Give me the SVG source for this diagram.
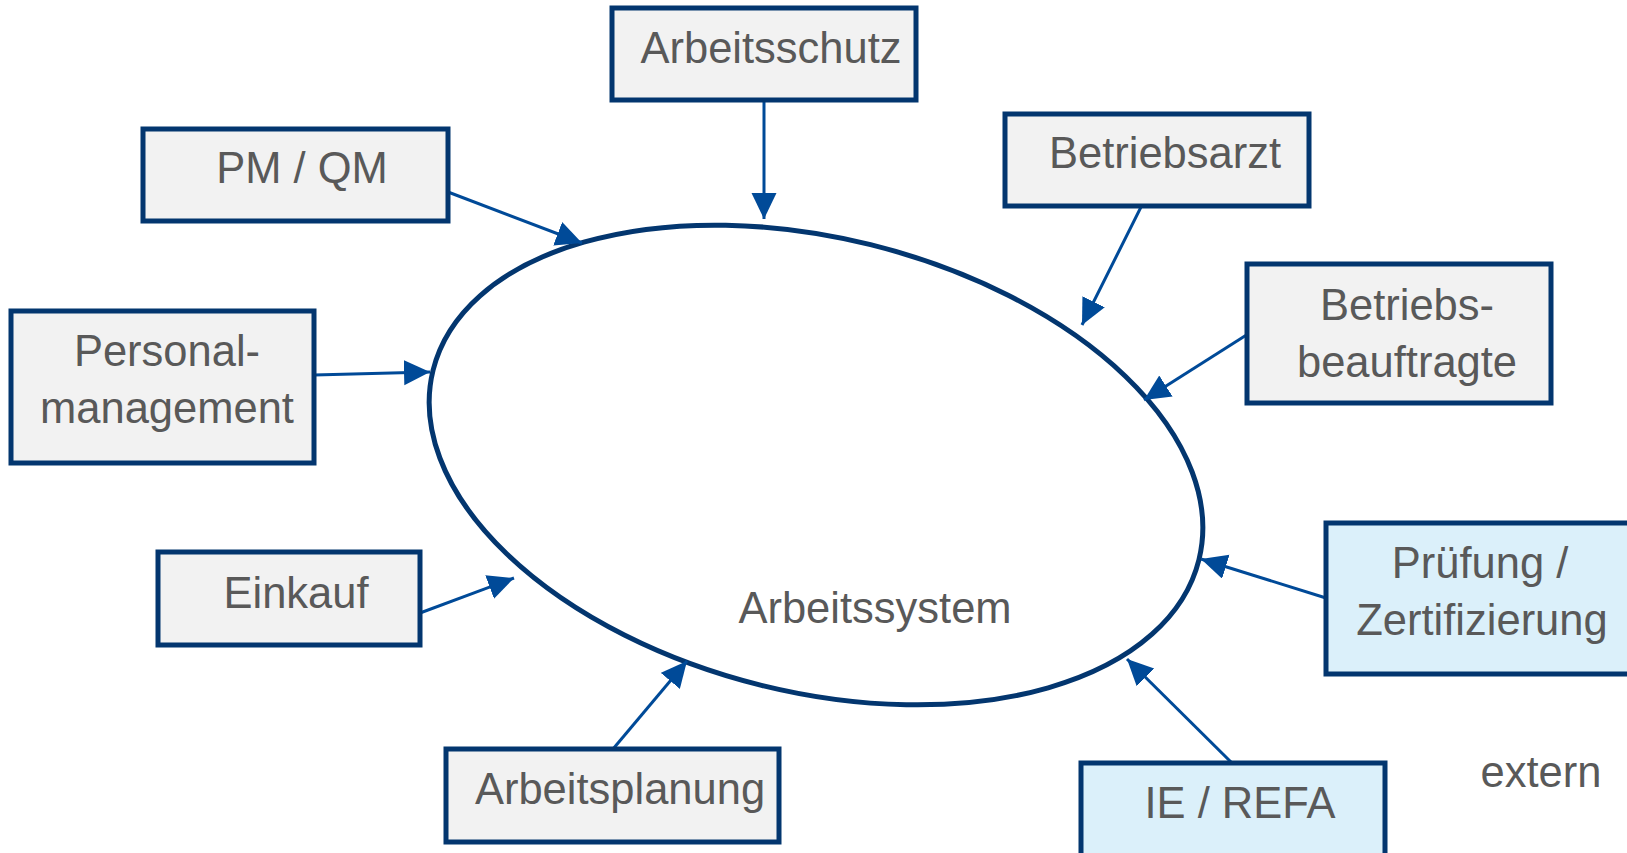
<svg xmlns="http://www.w3.org/2000/svg" width="1627" height="853" viewBox="0 0 1627 853">
<style>
.box{fill:#f2f2f2;stroke:#03366f;stroke-width:5}
.ext{fill:#dbf0fa;stroke:#03366f;stroke-width:5}
.t{font-family:"Liberation Sans",Arial,sans-serif;font-size:43.5px;fill:#595959;text-anchor:middle}
.c{stroke:#004a98;stroke-width:3;fill:none;marker-end:url(#ah)}
</style>
<defs>
<marker id="ah" markerUnits="userSpaceOnUse" markerWidth="27" markerHeight="26" refX="26" refY="12.5" orient="auto">
<path d="M0,0 L26,12.5 L0,25 z" fill="#004a98"/>
</marker>
</defs>
<rect width="1627" height="853" fill="#ffffff"/>
<g id="arbeitssystem">
<ellipse cx="816" cy="465" rx="394.5" ry="227" transform="rotate(13.9 816 465)" fill="#ffffff" stroke="#03366f" stroke-width="5"/>
<text class="t" x="875" y="623">Arbeitssystem</text>
</g>
<g id="connectors">
<line class="c" x1="764" y1="100" x2="764" y2="219"/>
<line class="c" x1="448" y1="192" x2="582" y2="243"/>
<line class="c" x1="314" y1="375" x2="430" y2="372"/>
<line class="c" x1="1141" y1="207" x2="1082" y2="325"/>
<line class="c" x1="1248" y1="334" x2="1144" y2="400"/>
<line class="c" x1="1326" y1="598" x2="1201" y2="559"/>
<line class="c" x1="1232" y1="763" x2="1127" y2="659"/>
<line class="c" x1="420" y1="613" x2="514" y2="578"/>
<line class="c" x1="613" y1="749" x2="687" y2="661"/>
</g>
<g id="arbeitsschutz">
<rect class="box" x="612" y="8" width="304" height="92"/>
<text class="t" x="771" y="63">Arbeitsschutz</text>
</g>
<g id="pmqm">
<rect class="box" x="143" y="129" width="305" height="92"/>
<text class="t" x="302" y="183">PM / QM</text>
</g>
<g id="personal">
<rect class="box" x="11" y="311" width="303" height="152"/>
<text class="t" x="167" y="366">Personal-</text>
<text class="t" x="167" y="423">management</text>
</g>
<g id="betriebsarzt">
<rect class="box" x="1005" y="114" width="304" height="92"/>
<text class="t" x="1165" y="168">Betriebsarzt</text>
</g>
<g id="betriebsbeauftragte">
<rect class="box" x="1247" y="264" width="304" height="139"/>
<text class="t" x="1407" y="320">Betriebs-</text>
<text class="t" x="1407" y="377">beauftragte</text>
</g>
<g id="einkauf">
<rect class="box" x="158" y="552" width="262" height="93"/>
<text class="t" x="296" y="608">Einkauf</text>
</g>
<g id="arbeitsplanung">
<rect class="box" x="446" y="749" width="333" height="93"/>
<text class="t" x="620" y="804">Arbeitsplanung</text>
</g>
<g id="pruefung">
<rect class="ext" x="1326" y="523" width="314" height="151"/>
<text class="t" x="1480" y="578">Prüfung /</text>
<text class="t" x="1482" y="635">Zertifizierung</text>
</g>
<g id="ierefa">
<rect class="ext" x="1081" y="763" width="304" height="100"/>
<text class="t" x="1240" y="818">IE / REFA</text>
</g>
<g id="extern">
<text class="t" x="1541" y="787">extern</text>
</g>
</svg>
